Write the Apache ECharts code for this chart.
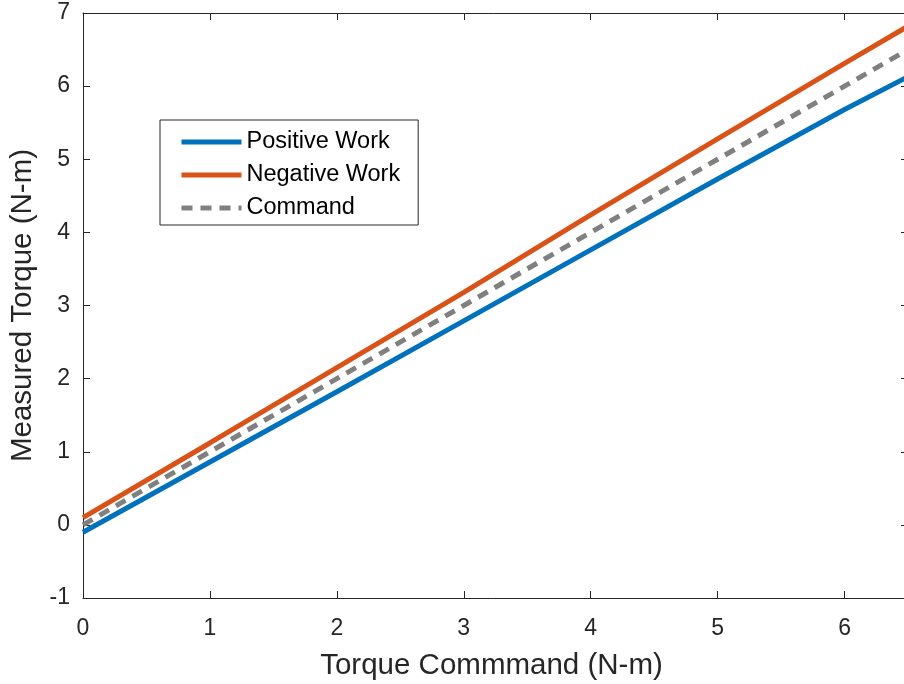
<!DOCTYPE html>
<html><head><meta charset="utf-8">
<script src="https://cdn.jsdelivr.net/npm/echarts@6/dist/echarts.min.js"></script>
<style>html,body{margin:0;padding:0;background:#fff}#c{width:904px;height:684px}</style>
</head><body><div id="c"></div>
<script>
const xValues = [0, 1, 2, 3, 4, 5, 6, 6.5];
const positiveWork = [-0.1, 0.86, 1.82, 2.79, 3.76, 4.73, 5.68, 6.13];
const negativeWork = [0.1, 1.12, 2.15, 3.18, 4.24, 5.28, 6.31, 6.82];
const command = [0, 1, 2, 3, 4, 5, 6, 6.5];
const seriesNames = ['Positive Work', 'Negative Work', 'Command'];
const xTitle = 'Torque Commmand (N-m)';
const yTitle = 'Measured Torque (N-m)';

const pair = (ys) => xValues.map((x, i) => [x, ys[i]]);
const axisColor = '#262626';
const font = 'Liberation Sans, Arial, Helvetica, sans-serif';
const intFmt = v => (Math.abs(v - Math.round(v)) < 1e-9 ? String(Math.round(v)) : '');
const lineAx = { show: true, onZero: false, lineStyle: { color: axisColor, width: 1 } };
const tickAx = { show: true, inside: true, length: 7, lineStyle: { color: axisColor } };

const chart = echarts.init(document.getElementById('c'));
chart.setOption({
  animation: false,
  backgroundColor: '#fff',
  grid: { left: 83, right: -4, top: 13, bottom: 86, containLabel: false, outerBoundsMode: 'none' },
  legend: {
    orient: 'vertical', left: 160, top: 120,
    data: seriesNames,
    itemWidth: 60, itemHeight: 14, itemGap: 9,
    padding: [10, 18, 5, 19],
    borderColor: '#262626', borderWidth: 1, backgroundColor: '#fff',
    itemStyle: { opacity: 0 },
    lineStyle: { width: 5 },
    textStyle: { fontFamily: font, fontSize: 23.5, color: '#000' }
  },
  xAxis: [{
    type: 'value', min: 0, max: 6.5, interval: 1, position: 'bottom',
    name: xTitle, nameLocation: 'middle', nameGap: 53,
    nameTextStyle: { fontFamily: font, fontSize: 29.5, color: axisColor, padding: [0, 8, 0, 0] },
    axisLine: lineAx, axisTick: tickAx,
    axisLabel: { fontFamily: font, fontSize: 23, color: axisColor, margin: 19, formatter: intFmt },
    splitLine: { show: false }
  }, {
    type: 'value', min: 0, max: 6.5, interval: 1, position: 'top',
    axisLine: lineAx, axisTick: tickAx,
    axisLabel: { show: false }, splitLine: { show: false }
  }],
  yAxis: [{
    type: 'value', min: -1, max: 7, interval: 1, position: 'left',
    name: yTitle, nameLocation: 'middle', nameGap: 45,
    nameTextStyle: { fontFamily: font, fontSize: 29.5, color: axisColor },
    axisLine: lineAx, axisTick: tickAx,
    axisLabel: { fontFamily: font, fontSize: 23, color: axisColor, margin: 13 },
    splitLine: { show: false }
  }, {
    type: 'value', min: -1, max: 7, interval: 1, position: 'right',
    axisLine: lineAx, axisTick: tickAx,
    axisLabel: { show: false }, splitLine: { show: false }
  }],
  series: [{
    name: seriesNames[0], type: 'line', data: pair(positiveWork), symbol: 'none',
    lineStyle: { color: '#0072BD', width: 5 }, itemStyle: { color: '#0072BD' }
  }, {
    name: seriesNames[1], type: 'line', data: pair(negativeWork), symbol: 'none',
    lineStyle: { color: '#D95319', width: 5 }, itemStyle: { color: '#D95319' }
  }, {
    name: seriesNames[2], type: 'line', data: pair(command), symbol: 'none',
    lineStyle: { color: '#808080', width: 5, type: [11, 8] }, itemStyle: { color: '#808080' }
  }]
});
</script></body></html>
